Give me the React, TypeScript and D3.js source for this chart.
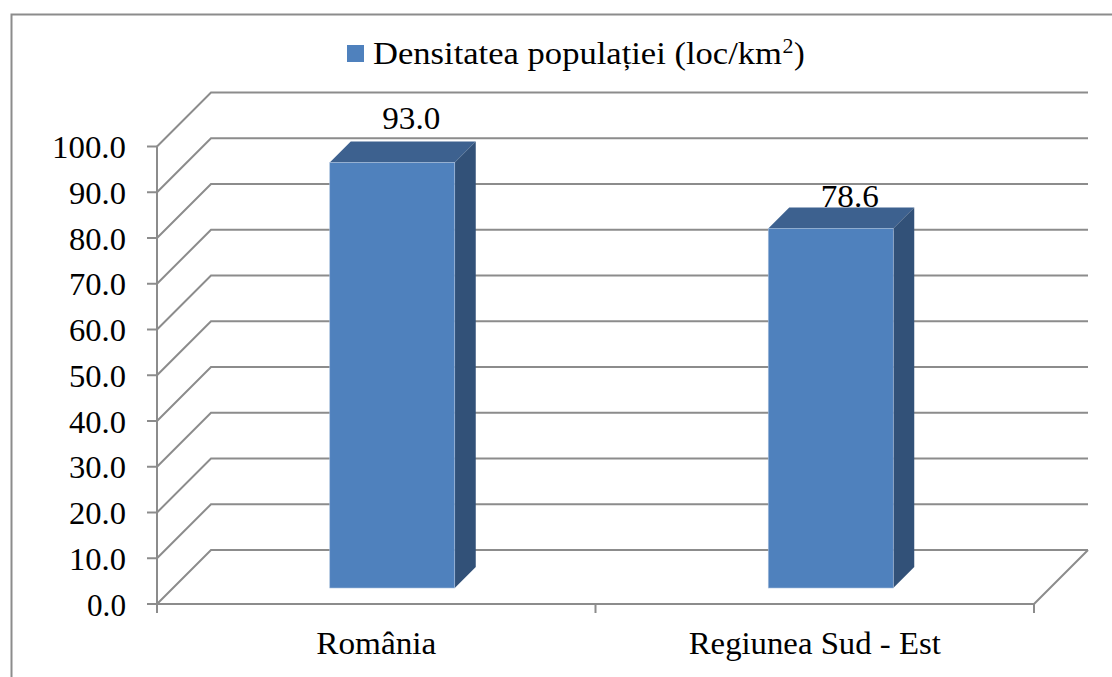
import React from "react";
import * as d3 from "d3";

const categories = ["România", "Regiunea Sud - Est"];
const categoryWidths = [120, 252];
const values = [93.0, 78.6];
const valueLabels = ["93.0", "78.6"];
const yTicks = [0, 10, 20, 30, 40, 50, 60, 70, 80, 90, 100];
const FONT = '"Liberation Serif", serif';
const GRID = "#8c8c8c";
const FS = 32;

export default function App() {
  const y = d3.scaleLinear().domain([0, 100]).range([604, 146.5]);
  const x = d3.scaleBand<string>().domain(categories).range([157, 1034]);
  const depth = 54;
  const barNear = 16;
  const barFar = 37;
  const barW = 125;
  return (
    <svg
      width={1112}
      height={677}
      style={{ position: "fixed", left: 0, top: 0, background: "#fff" }}
    >
      <path d="M11.5 677V14.5H1112" fill="none" stroke="#8c8c8c" strokeWidth={2} />
      {/* legend */}
      <rect x={347} y={45} width={17} height={17} fill="#4f81bd" />
      <text x={373} y={64} fontFamily={FONT} fontSize={FS} fill="#000" textLength={409} lengthAdjust="spacingAndGlyphs">
        Densitatea populației (loc/km
      </text>
      <text x={782.5} y={53} fontFamily={FONT} fontSize={22} fill="#000">2</text>
      <text x={794} y={64} fontFamily={FONT} fontSize={FS} fill="#000">)</text>

      {/* walls */}
      {yTicks.map((t) => (
        <g key={t} stroke={GRID} strokeWidth={2} fill="none">
          <path d={`M${157} ${y(t)}L${157 + depth} ${y(t) - depth}H${1034 + depth}`} />
          <line x1={147} x2={157} y1={y(t)} y2={y(t)} />
        </g>
      ))}
      <path
        d={`M157 ${y(100)}V${y(0) + 9}M157 ${y(0)}H1034V${y(0) + 9}M595.5 ${y(0)}V${y(0) + 9}M1034 ${y(0)}L${1034 + depth} ${y(0) - depth}`}
        stroke={GRID}
        strokeWidth={2}
        fill="none"
      />
      {yTicks.map((t) => {
        const label = t.toFixed(1);
        return (
          <text
            key={t}
            x={126}
            y={y(t) + 11.5}
            textAnchor="end"
            fontFamily={FONT}
            fontSize={FS}
            fill="#000"
            textLength={label.length === 5 ? 74 : label.length === 4 ? 57 : 39}
            lengthAdjust="spacingAndGlyphs"
          >
            {label}
          </text>
        );
      })}
      {categories.map((c, i) => {
        const cx = x(c)! + x.bandwidth() / 2;
        return (
          <text
            key={c}
            x={cx}
            y={654}
            textAnchor="middle"
            fontFamily={FONT}
            fontSize={FS}
            fill="#000"
            textLength={categoryWidths[i]}
            lengthAdjust="spacingAndGlyphs"
          >
            {c}
          </text>
        );
      })}

      {/* bars */}
      {categories.map((c, i) => {
        const cx = x(c)! + x.bandwidth() / 2 + barNear;
        const l = cx - barW / 2;
        const r = cx + barW / 2;
        const b = y(0) - barNear;
        const t = y(values[i]) - barNear;
        const d = barFar - barNear;
        return (
          <g key={c}>
            <text
              x={cx + 19}
              y={t - 34 + (i === 1 ? 13 : 0)}
              textAnchor="middle"
              fontFamily={FONT}
              fontSize={FS}
              fill="#000"
              textLength={58}
              lengthAdjust="spacingAndGlyphs"
            >
              {valueLabels[i]}
            </text>
            <polygon points={`${l},${t} ${l + d},${t - d} ${r + d},${t - d} ${r},${t}`} fill="#3d618f" />
            <polygon points={`${r},${t} ${r + d},${t - d} ${r + d},${b - d} ${r},${b}`} fill="#325178" />
            <rect x={l} y={t} width={barW} height={b - t} fill="#4f81bd" stroke="#a9c0dd" strokeWidth={0.6} />
          </g>
        );
      })}
    </svg>
  );
}
